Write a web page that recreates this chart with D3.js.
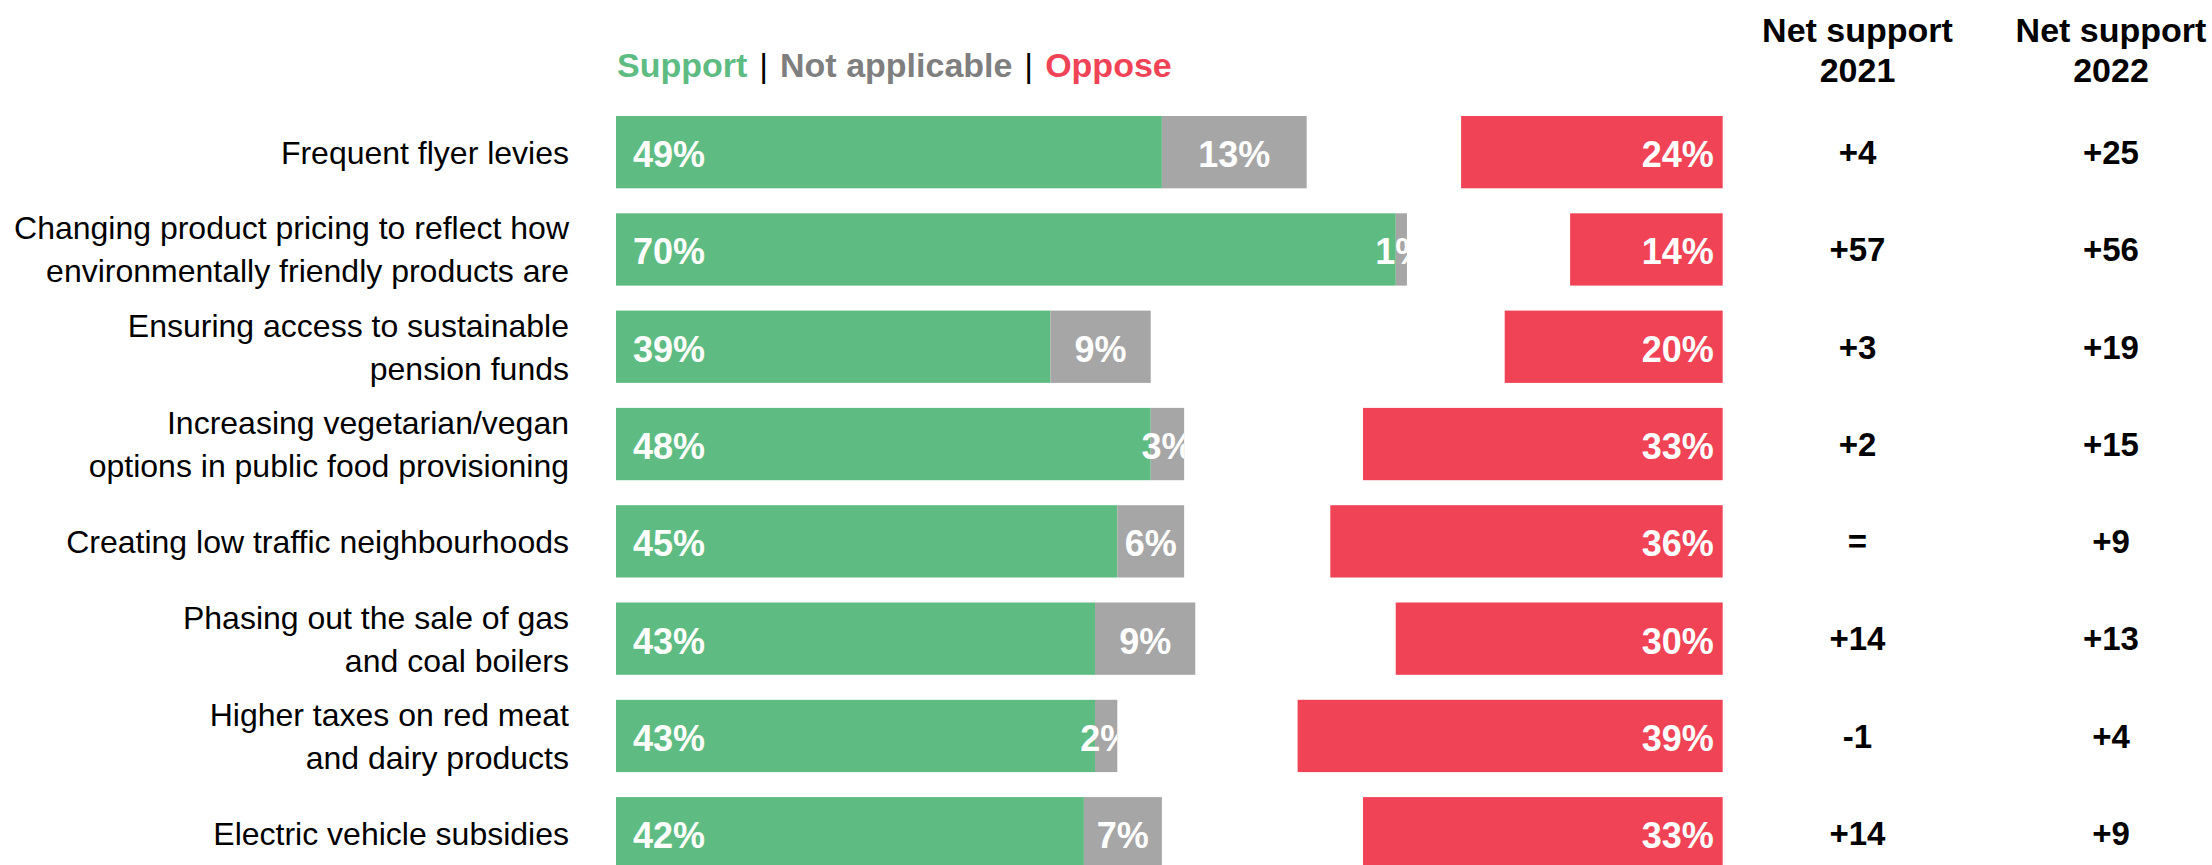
<!DOCTYPE html>
<html>
<head>
<meta charset="utf-8">
<script src="https://cdn.jsdelivr.net/npm/d3@7"></script>
<style>
  html, body { margin: 0; padding: 0; background: #ffffff; }
  svg { display: block; }
</style>
</head>
<body>
<div id="chart"></div>
<script>
// Policy support survey: support / not applicable / oppose, plus net support by year
const categories = [
  "Frequent flyer levies",
  "Changing product pricing to reflect how\nenvironmentally friendly products are",
  "Ensuring access to sustainable\npension funds",
  "Increasing vegetarian/vegan\noptions in public food provisioning",
  "Creating low traffic neighbourhoods",
  "Phasing out the sale of gas\nand coal boilers",
  "Higher taxes on red meat\nand dairy products",
  "Electric vehicle subsidies"
];
const support = [49, 70, 39, 48, 45, 43, 43, 42];
const notApplicable = [13, 1, 9, 3, 6, 9, 2, 7];
const oppose = [24, 14, 20, 33, 36, 30, 39, 33];
const net2021 = [4, 57, 3, 2, 0, 14, -1, 14];
const net2022 = [25, 56, 19, 15, 9, 13, 4, 9];
const netHeaders = [["Net support", "2021"], ["Net support", "2022"]];
const legendItems = ["Support", "Not applicable", "Oppose"];

const W = 2212, H = 865;
const FONT = "'Liberation Sans', Arial, Helvetica, sans-serif";
const C_SUPPORT = "#5ebc83";
const C_NA = "#a6a6a6";
const C_OPPOSE = "#f14356";
const C_NA_TEXT = "#7f7f7f";

const svg = d3.select("#chart").append("svg")
  .attr("width", W).attr("height", H)
  .attr("viewBox", `0 0 ${W} ${H}`)
  .style("font-family", FONT);

// Scales
const rows = d3.range(categories.length);
const step = 97.3, gap = 25;
const y = d3.scaleBand()
  .domain(rows)
  .range([116, 116 + step * rows.length - gap])
  .paddingInner(gap / step)
  .paddingOuter(0);

const xLeft = d3.scaleLinear().domain([0, 100]).range([616, 616 + 1114]);
const xOpp = d3.scaleLinear().domain([0, 100]).range([1722.7, 1722.7 - 1090]);
const netX = [1857.5, 2111];

const defs = svg.append("defs");

// Support + not-applicable stacked bars (labels clipped to the stack)
const leftRows = svg.append("g").selectAll("g").data(rows).join("g");

leftRows.each(function (i) {
  const g = d3.select(this);
  const top = y(i), bh = y.bandwidth();
  const cid = "clip-row-" + i;
  defs.append("clipPath").attr("id", cid)
    .append("rect")
    .attr("x", xLeft(0)).attr("y", top)
    .attr("width", xLeft(support[i] + notApplicable[i]) - xLeft(0))
    .attr("height", bh);

  g.append("rect")
    .attr("x", xLeft(0)).attr("y", top)
    .attr("width", xLeft(support[i]) - xLeft(0)).attr("height", bh)
    .attr("fill", C_SUPPORT);
  g.append("rect")
    .attr("x", xLeft(support[i])).attr("y", top)
    .attr("width", xLeft(support[i] + notApplicable[i]) - xLeft(support[i])).attr("height", bh)
    .attr("fill", C_NA);

  const lbl = g.append("g").attr("clip-path", `url(#${cid})`)
    .style("font-size", "36px").style("font-weight", "bold").attr("fill", "#ffffff");
  const base = top + bh / 2 + 14.9;
  lbl.append("text")
    .attr("x", xLeft(0) + 17).attr("y", base)
    .text(support[i] + "%");
  lbl.append("text")
    .attr("x", (xLeft(support[i]) + xLeft(support[i] + notApplicable[i])) / 2)
    .attr("y", base).attr("text-anchor", "middle")
    .text(notApplicable[i] + "%");
});

// Oppose bars, anchored on the right
const oppRows = svg.append("g").selectAll("g").data(rows).join("g");
oppRows.append("rect")
  .attr("x", i => xOpp(oppose[i]))
  .attr("y", i => y(i))
  .attr("width", i => xOpp(0) - xOpp(oppose[i]))
  .attr("height", y.bandwidth())
  .attr("fill", C_OPPOSE);
oppRows.append("text")
  .attr("x", xOpp(0) - 9)
  .attr("y", i => y(i) + y.bandwidth() / 2 + 14.9)
  .attr("text-anchor", "end")
  .style("font-size", "36px").style("font-weight", "bold")
  .attr("fill", "#ffffff")
  .text(i => oppose[i] + "%");

// Category labels, right-aligned, possibly on two lines
const labelFs = 32, lineH = 43;
svg.append("g").selectAll("text").data(rows).join("text")
  .attr("text-anchor", "end")
  .style("font-size", labelFs + "px")
  .attr("fill", "#000000")
  .each(function (i) {
    const lines = categories[i].split("\n");
    const cy = y(i) + y.bandwidth() / 2;
    const first = cy - (lines.length - 1) * lineH / 2 + labelFs * 0.716 / 2;
    d3.select(this).selectAll("tspan").data(lines).join("tspan")
      .attr("x", 569)
      .attr("y", (d, k) => first + k * lineH)
      .text(d => d);
  });

// Legend line
const legend = svg.append("text")
  .attr("x", 617).attr("y", 77)
  .style("font-size", "34px").style("font-weight", "bold");
const legendColors = [C_SUPPORT, C_NA_TEXT, C_OPPOSE];
legendItems.forEach((item, k) => {
  if (k > 0) {
    legend.append("tspan").attr("fill", "#000000").attr("dx", 2.5)
      .style("font-weight", "normal").text(" | ");
  }
  legend.append("tspan").attr("fill", legendColors[k]).attr("dx", k > 0 ? 2.5 : 0).text(item);
});

// Net support columns
const fmtNet = v => v === 0 ? "=" : (v > 0 ? "+" + v : String(v));
[net2021, net2022].forEach((vals, c) => {
  const hdr = svg.append("text")
    .attr("text-anchor", "middle")
    .style("font-size", "34px").style("font-weight", "bold")
    .attr("fill", "#000000");
  netHeaders[c].forEach((line, k) => {
    hdr.append("tspan").attr("x", netX[c]).attr("y", 42 + k * 40).text(line);
  });
  svg.append("g").selectAll("text").data(rows).join("text")
    .attr("x", netX[c])
    .attr("y", i => y(i) + y.bandwidth() / 2 + 33 * 0.716 / 2)
    .attr("text-anchor", "middle")
    .style("font-size", "33px").style("font-weight", "bold")
    .attr("fill", "#000000")
    .text(i => fmtNet(vals[i]));
});
</script>
</body>
</html>
